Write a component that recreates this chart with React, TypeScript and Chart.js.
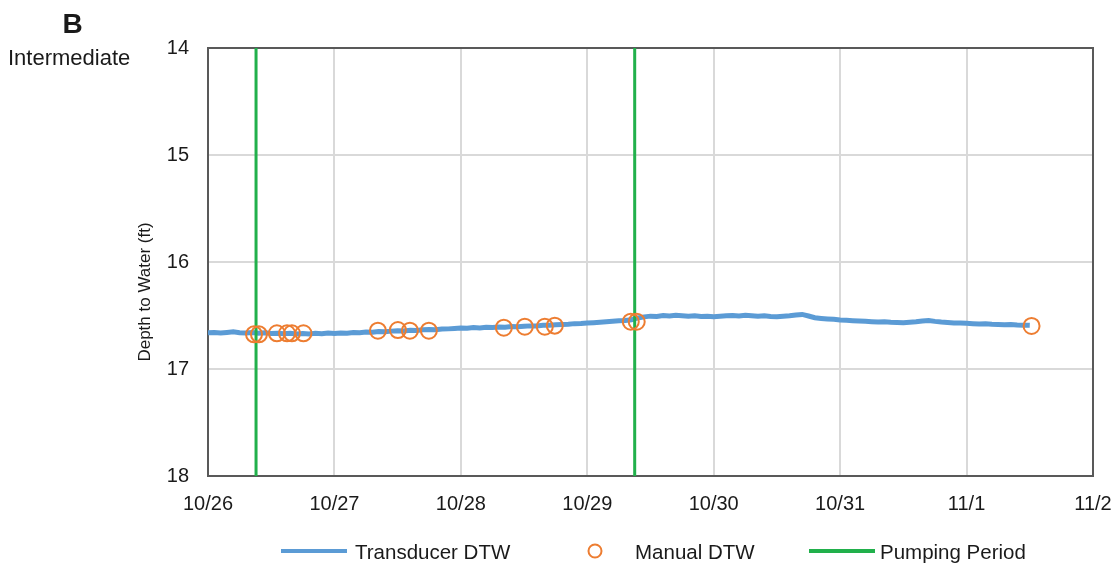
import { useEffect, useRef } from "react";
import { Chart, registerables } from "chart.js";

Chart.register(...registerables);

// Axis labels
const dateLabels = ["10/26", "10/27", "10/28", "10/29", "10/30", "10/31", "11/1", "11/2"];
const depthMin = 14;
const depthMax = 18;

// Transducer log: one reading every 0.05 day starting 10/26 00:00
const LOG_STEP_DAYS = 0.05;
const transducerDepth = [
  16.661, 16.659, 16.663, 16.658, 16.653, 16.661, 16.664, 16.66, 16.666, 16.662,
  16.669, 16.665, 16.671, 16.667, 16.672, 16.668, 16.673, 16.667, 16.67, 16.664,
  16.668, 16.663, 16.665, 16.659, 16.661, 16.655, 16.657, 16.65, 16.652, 16.646,
  16.643, 16.645, 16.638, 16.64, 16.633, 16.631, 16.634, 16.627, 16.625, 16.621,
  16.618, 16.62, 16.613, 16.616, 16.61, 16.612, 16.607, 16.609, 16.603, 16.606,
  16.601, 16.597, 16.599, 16.592, 16.59, 16.587, 16.584, 16.581, 16.576, 16.574,
  16.57, 16.567, 16.563, 16.559, 16.554, 16.55, 16.546, 16.539, 16.523, 16.513,
  16.506, 16.509, 16.501, 16.505, 16.498, 16.502, 16.507, 16.503, 16.509, 16.506,
  16.511, 16.507, 16.503, 16.499, 16.504, 16.497, 16.502, 16.506, 16.503, 16.509,
  16.511, 16.507, 16.503, 16.496, 16.49, 16.505, 16.521, 16.527, 16.532, 16.536,
  16.541, 16.544, 16.548, 16.551, 16.554, 16.558, 16.561, 16.559, 16.564, 16.566,
  16.567, 16.563, 16.559, 16.552, 16.547, 16.555, 16.561, 16.565, 16.569, 16.571,
  16.573, 16.576, 16.579, 16.577, 16.581, 16.583, 16.586, 16.584, 16.588, 16.59,
  16.592,
];

// Manual depth-to-water measurements (days after 10/26 00:00)
const manualDays = [
  0.364, 0.403, 0.545, 0.625, 0.664, 0.755, 1.344, 1.502, 1.597, 1.747,
  2.34, 2.506, 2.664, 2.743, 3.344, 3.391, 6.514,
];
const manualDepth = [
  16.676, 16.676, 16.666, 16.666, 16.666, 16.666, 16.642, 16.636, 16.642, 16.642,
  16.614, 16.605, 16.605, 16.595, 16.558, 16.558, 16.598,
];

// Start of each pumping period
const pumpingDays = [0.38, 3.375];

const BLUE = "#5B9BD5";
const ORANGE = "#ED7D31";
const GREEN = "#21B04B";
const TEXT = "#1a1a1a";
const FONT = "'Liberation Sans', Arial, sans-serif";

export default function App() {
  const canvasRef = useRef<HTMLCanvasElement>(null);

  useEffect(() => {
    const canvas = canvasRef.current;
    if (!canvas) return;

    const transducerPoints = transducerDepth.map((d, i) => ({ x: i * LOG_STEP_DAYS, y: d }));
    const manualPoints = manualDays.map((x, i) => ({ x, y: manualDepth[i] }));

    const pumpingSets = pumpingDays.map((day) => ({
      label: "Pumping Period",
      data: [
        { x: day, y: depthMin },
        { x: day, y: depthMax },
      ],
      borderColor: GREEN,
      backgroundColor: GREEN,
      borderWidth: 3,
      pointRadius: 0,
      order: 1,
    }));

    // Frame around the plot area
    const framePlugin = {
      id: "frame",
      beforeDatasetsDraw(chart: Chart) {
        const { ctx, chartArea } = chart;
        ctx.save();
        ctx.strokeStyle = "#595959";
        ctx.lineWidth = 2;
        ctx.strokeRect(chartArea.left, chartArea.top, chartArea.right - chartArea.left, chartArea.bottom - chartArea.top);
        ctx.restore();
      },
    };

    // Panel heading, axis title and legend
    const annotationsPlugin = {
      id: "annotations",
      afterDraw(chart: Chart) {
        const { ctx } = chart;
        ctx.save();
        ctx.fillStyle = TEXT;
        ctx.textBaseline = "alphabetic";

        ctx.font = `bold 28px ${FONT}`;
        ctx.textAlign = "center";
        ctx.fillText("B", 72.5, 33);

        ctx.font = `22px ${FONT}`;
        ctx.textAlign = "left";
        ctx.fillText("Intermediate", 8, 65);

        ctx.save();
        ctx.translate(145, 292);
        ctx.rotate(-Math.PI / 2);
        ctx.font = `17px ${FONT}`;
        ctx.textAlign = "center";
        ctx.textBaseline = "middle";
        ctx.fillText("Depth to Water (ft)", 0, 0);
        ctx.restore();

        const ly = 551;
        ctx.lineWidth = 4;
        ctx.strokeStyle = BLUE;
        ctx.beginPath();
        ctx.moveTo(281, ly);
        ctx.lineTo(347, ly);
        ctx.stroke();

        ctx.strokeStyle = ORANGE;
        ctx.lineWidth = 2;
        ctx.beginPath();
        ctx.arc(595, ly, 6.5, 0, Math.PI * 2);
        ctx.stroke();

        ctx.strokeStyle = GREEN;
        ctx.lineWidth = 4;
        ctx.beginPath();
        ctx.moveTo(809, ly);
        ctx.lineTo(875, ly);
        ctx.stroke();

        ctx.font = `20.5px ${FONT}`;
        ctx.textAlign = "left";
        ctx.fillStyle = TEXT;
        ctx.fillText("Transducer DTW", 355, ly + 7.5);
        ctx.fillText("Manual DTW", 635, ly + 7.5);
        ctx.fillText("Pumping Period", 880, ly + 7.5);
        ctx.restore();
      },
    };

    const chart = new Chart(canvas, {
      type: "line",
      data: {
        datasets: [
          {
            label: "Manual DTW",
            data: manualPoints,
            showLine: false,
            pointStyle: "circle",
            pointRadius: 8,
            pointBorderWidth: 2,
            pointBorderColor: ORANGE,
            pointBackgroundColor: "rgba(0,0,0,0)",
            borderColor: ORANGE,
            backgroundColor: "rgba(0,0,0,0)",
            order: 0,
          },
          ...pumpingSets,
          {
            label: "Transducer DTW",
            data: transducerPoints,
            borderColor: BLUE,
            backgroundColor: BLUE,
            borderWidth: 5,
            pointRadius: 0,
            tension: 0,
            order: 2,
          },
        ],
      },
      options: {
        responsive: false,
        animation: false,
        events: [],
        layout: { padding: { left: 0, top: 48, right: 22, bottom: 0 } },
        plugins: {
          legend: { display: false },
          tooltip: { enabled: false },
          title: { display: false },
        },
        scales: {
          x: {
            type: "linear",
            min: 0,
            max: 7,
            grid: { color: "#d9d9d9", lineWidth: 2, drawTicks: false },
            border: { display: false },
            ticks: {
              stepSize: 1,
              autoSkip: false,
              maxRotation: 0,
              padding: 16,
              color: TEXT,
              font: { family: FONT, size: 20 },
              callback: (v: number | string) => dateLabels[Number(v)] ?? "",
            },
            afterFit(scale: any) {
              scale.height = 87;
              scale.paddingLeft = 0;
              scale.paddingRight = 0;
            },
          },
          y: {
            type: "linear",
            reverse: true,
            min: depthMin,
            max: depthMax,
            grid: { color: "#d9d9d9", lineWidth: 2, drawTicks: false },
            border: { display: false },
            ticks: {
              stepSize: 1,
              padding: 19,
              color: TEXT,
              font: { family: FONT, size: 20 },
            },
            afterFit(scale: any) {
              scale.width = 208;
              scale.paddingTop = 0;
              scale.paddingBottom = 0;
            },
          },
        },
      },
      plugins: [framePlugin, annotationsPlugin],
    });

    return () => chart.destroy();
  }, []);

  return (
    <div style={{ position: "fixed", left: 0, top: 0, width: 1115, height: 563, background: "#fff" }}>
      <canvas ref={canvasRef} width={1115} height={563} />
    </div>
  );
}
